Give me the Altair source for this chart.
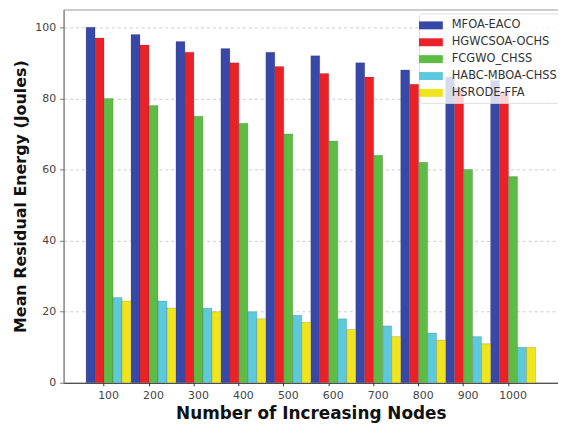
import altair as alt
import pandas as pd

nodes = ["100", "200", "300", "400", "500", "600", "700", "800", "900", "1000"]
series = ["MFOA-EACO", "HGWCSOA-OCHS", "FCGWO_CHSS", "HABC-MBOA-CHSS", "HSRODE-FFA"]
mfoa_eaco = [100, 98, 96, 94, 93, 92, 90, 88, 86, 85]
hgwcsoa_ochs = [97, 95, 93, 90, 89, 87, 86, 84, 83, 82]
fcgwo_chss = [80, 78, 75, 73, 70, 68, 64, 62, 60, 58]
habc_mboa_chss = [24, 23, 21, 20, 19, 18, 16, 14, 13, 10]
hsrode_ffa = [23, 21, 20, 18, 17, 15, 13, 12, 11, 10]
colors = ["#3848a8", "#ea2228", "#5cbc44", "#5ec8dc", "#f0e41c"]

values = [mfoa_eaco, hgwcsoa_ochs, fcgwo_chss, habc_mboa_chss, hsrode_ffa]
rows = []
for s, vals in zip(series, values):
    for n, v in zip(nodes, vals):
        rows.append({"Nodes": n, "Method": s, "Energy": v})
df = pd.DataFrame(rows)

FONT = "DejaVu Sans"

chart = alt.Chart(df).mark_bar(stroke="#333333", strokeWidth=0.3, strokeOpacity=0.6).encode(
    x=alt.X("Nodes:N", sort=nodes,
            scale=alt.Scale(paddingInner=0, paddingOuter=0.5),
            axis=alt.Axis(title="Number of Increasing Nodes", labelAngle=0,
                          bandPosition=0.4, labelFont=FONT, labelFontSize=11,
                          labelColor="#444444", titleFont=FONT, titleFontSize=17,
                          titleFontWeight="bold", titleColor="#111111",
                          domainColor="#333333", tickColor="#333333", tickSize=3,
                          labelPadding=4, titlePadding=5)),
    xOffset=alt.XOffset("Method:N", sort=series, scale=alt.Scale(domain=series, paddingInner=0, paddingOuter=0)),
    y=alt.Y("Energy:Q", scale=alt.Scale(domain=[0, 105], nice=False),
            axis=alt.Axis(title="Mean Residual Energy (Joules)", values=[0, 20, 40, 60, 80, 100],
                          labelFont=FONT, labelFontSize=11, labelColor="#444444",
                          titleFont=FONT, titleFontSize=16, titleFontWeight="bold",
                          titleColor="#111111", domainColor="#777777", tickColor="#777777",
                          tickSize=4, labelPadding=4, titlePadding=6,
                          grid=True, gridDash=[3, 3], gridColor="#cccccc")),
    color=alt.Color("Method:N", sort=series,
                    scale=alt.Scale(domain=series, range=colors),
                    legend=alt.Legend(title=None, orient="none", legendX=358, legendY=4,
                                      symbolType="M-1.5,-0.5H1.5V0.5H-1.5Z", symbolSize=256,
                                      symbolStrokeWidth=0, labelFont=FONT, labelFontSize=11.5,
                                      labelColor="#333333", fillColor="rgba(255,255,255,0.8)",
                                      strokeColor="#dddddd", padding=4, rowPadding=3,
                                      labelOffset=13, cornerRadius=3)),
).properties(
    width=498, height=376,
    autosize=alt.AutoSizeParams(type="none"),
    padding={"left": 56, "top": 0, "right": 0, "bottom": 40},
).configure_view(stroke="#999999", strokeWidth=1)

chart.save("out.html", embed_options={"renderer": "svg", "actions": False})
